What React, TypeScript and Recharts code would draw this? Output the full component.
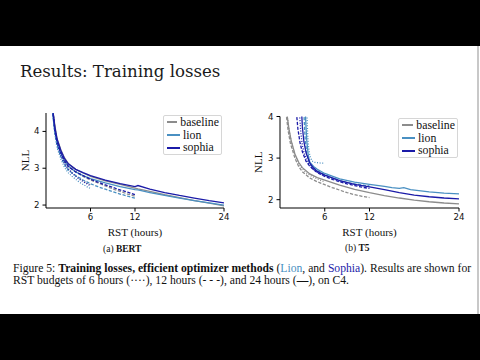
import { LineChart, Line, XAxis, YAxis, Legend } from "recharts"

const SERIF = '"Liberation Serif", "Times New Roman", serif'
const SANS = '"DejaVu Sans", sans-serif'
const BASE = "#8c8c8c"
const LION = "#4a90c2"
const SOPH = "#1b1ba8"

const hourTicks = [6, 12, 24]
const nllTicks = [2, 3, 4]

// BERT runs (hours, NLL)
const bertHours24 = [0.9, 1.2, 1.5, 2, 2.5, 3, 4, 5, 6, 8, 10, 12, 12.4, 14, 16, 18, 20, 22, 24]
const bertBaseline24 = [4.6, 4.15, 3.8, 3.5, 3.28, 3.13, 2.97, 2.87, 2.78, 2.66, 2.56, 2.46, 2.44, 2.37, 2.28, 2.2, 2.12, 2.05, 1.98]
const bertLion24 = [4.5, 4.0, 3.7, 3.4, 3.2, 3.06, 2.9, 2.8, 2.72, 2.6, 2.5, 2.42, 2.41, 2.34, 2.26, 2.19, 2.12, 2.06, 2.0]
const bertSophia24 = [4.6, 4.1, 3.78, 3.48, 3.26, 3.12, 2.97, 2.88, 2.8, 2.68, 2.58, 2.5, 2.53, 2.43, 2.34, 2.26, 2.19, 2.12, 2.06]

const bertHours12 = [0.9, 1.2, 1.5, 2, 2.5, 3, 4, 5, 6, 7, 8, 9, 10, 11, 12]
const bertBaseline12 = [4.6, 4.1, 3.75, 3.45, 3.22, 3.06, 2.9, 2.78, 2.68, 2.6, 2.52, 2.44, 2.37, 2.3, 2.24]
const bertLion12 = [4.5, 3.95, 3.62, 3.32, 3.1, 2.95, 2.8, 2.68, 2.58, 2.5, 2.43, 2.36, 2.3, 2.24, 2.19]
const bertSophia12 = [4.6, 4.05, 3.72, 3.42, 3.2, 3.05, 2.9, 2.8, 2.7, 2.62, 2.55, 2.48, 2.41, 2.35, 2.28]

const bertHours6 = [0.9, 1.2, 1.5, 2, 2.5, 3, 3.5, 4, 4.5, 5, 5.5, 6]
const bertBaseline6 = [4.6, 4.05, 3.7, 3.38, 3.15, 3.0, 2.88, 2.8, 2.72, 2.66, 2.6, 2.55]
const bertLion6 = [4.5, 3.9, 3.55, 3.25, 3.02, 2.88, 2.78, 2.7, 2.62, 2.56, 2.5, 2.45]
const bertSophia6 = [4.6, 4.0, 3.65, 3.35, 3.12, 2.98, 2.87, 2.78, 2.7, 2.64, 2.58, 2.52]

// T5 runs (hours, NLL)
const t5BaselineHours24 = [0.9, 1.2, 1.5, 2, 2.5, 3, 4, 5, 6, 8, 10, 12, 14, 16, 18, 20, 22, 24]
const t5Baseline24 = [4.1, 3.7, 3.42, 3.1, 2.9, 2.77, 2.62, 2.53, 2.47, 2.35, 2.25, 2.17, 2.1, 2.04, 1.99, 1.95, 1.92, 1.9]
const t5BaselineHours12 = [0.8, 1.1, 1.4, 2, 2.5, 3, 4, 5, 6, 7, 8, 9, 10, 11, 12]
const t5Baseline12 = [4.1, 3.65, 3.35, 3.0, 2.8, 2.67, 2.52, 2.43, 2.36, 2.29, 2.23, 2.17, 2.12, 2.08, 2.05]
const t5BaselineHours6 = [0.9, 1.2, 1.5, 2, 2.5, 3, 3.5, 4, 4.5, 5, 5.5, 6]
const t5Baseline6 = [4.1, 3.68, 3.4, 3.07, 2.87, 2.74, 2.65, 2.59, 2.54, 2.5, 2.46, 2.43]

const t5LionHours24 = [3.4, 3.5, 3.6, 3.8, 4, 4.5, 5, 6, 8, 10, 12, 14, 15, 16, 16.6, 17.5, 20, 22, 24]
const t5Lion24 = [4.1, 3.7, 3.4, 3.05, 2.9, 2.8, 2.73, 2.63, 2.5, 2.42, 2.37, 2.32, 2.29, 2.27, 2.29, 2.24, 2.19, 2.16, 2.14]
const t5LionHours12 = [3.2, 3.3, 3.4, 3.6, 3.8, 4, 4.5, 5, 6, 7, 8, 9, 10, 11, 12]
const t5Lion12 = [4.1, 3.7, 3.4, 3.1, 2.95, 2.86, 2.76, 2.7, 2.6, 2.52, 2.46, 2.41, 2.38, 2.35, 2.33]
const t5LionHours6 = [3.6, 3.7, 3.8, 4, 4.3, 4.6, 5, 5.5, 6]
const t5Lion6 = [4.1, 3.6, 3.3, 3.05, 2.93, 2.9, 2.89, 2.88, 2.88]

const t5SophiaHours24 = [2.9, 3.0, 3.2, 3.5, 4, 4.5, 5, 6, 8, 10, 12, 14, 16, 18, 20, 22, 24]
const t5Sophia24 = [4.1, 3.75, 3.4, 3.12, 2.88, 2.76, 2.68, 2.59, 2.46, 2.37, 2.31, 2.24, 2.17, 2.11, 2.07, 2.04, 2.02]
const t5SophiaHours12 = [2.2, 2.4, 2.7, 3, 3.5, 4, 5, 6, 7, 8, 9, 10, 11, 12]
const t5Sophia12 = [4.1, 3.7, 3.35, 3.15, 2.92, 2.8, 2.65, 2.56, 2.49, 2.43, 2.38, 2.34, 2.3, 2.27]
const t5SophiaHours6 = [2.6, 2.8, 3, 3.3, 3.7, 4, 4.5, 5, 5.5, 6]
const t5Sophia6 = [4.1, 3.6, 3.3, 3.08, 2.9, 2.82, 2.72, 2.66, 2.61, 2.57]

type Run = { id: string; hours: number[]; values: number[]; color: string; budget: number }

const dashFor = (budget: number) => (budget === 6 ? "1 1.6" : budget === 12 ? "3.2 1.6" : undefined)

const zip = (hours: number[], values: number[]) => hours.map((h, i) => ({ h, v: values[i] }))

const bertRuns: Run[] = [
  { id: "b6", hours: bertHours6, values: bertBaseline6, color: BASE, budget: 6 },
  { id: "b12", hours: bertHours12, values: bertBaseline12, color: BASE, budget: 12 },
  { id: "b24", hours: bertHours24, values: bertBaseline24, color: BASE, budget: 24 },
  { id: "l6", hours: bertHours6, values: bertLion6, color: LION, budget: 6 },
  { id: "l12", hours: bertHours12, values: bertLion12, color: LION, budget: 12 },
  { id: "l24", hours: bertHours24, values: bertLion24, color: LION, budget: 24 },
  { id: "s6", hours: bertHours6, values: bertSophia6, color: SOPH, budget: 6 },
  { id: "s12", hours: bertHours12, values: bertSophia12, color: SOPH, budget: 12 },
  { id: "s24", hours: bertHours24, values: bertSophia24, color: SOPH, budget: 24 },
]

const t5Runs: Run[] = [
  { id: "b6", hours: t5BaselineHours6, values: t5Baseline6, color: BASE, budget: 6 },
  { id: "b12", hours: t5BaselineHours12, values: t5Baseline12, color: BASE, budget: 12 },
  { id: "b24", hours: t5BaselineHours24, values: t5Baseline24, color: BASE, budget: 24 },
  { id: "l6", hours: t5LionHours6, values: t5Lion6, color: LION, budget: 6 },
  { id: "l12", hours: t5LionHours12, values: t5Lion12, color: LION, budget: 12 },
  { id: "l24", hours: t5LionHours24, values: t5Lion24, color: LION, budget: 24 },
  { id: "s6", hours: t5SophiaHours6, values: t5Sophia6, color: SOPH, budget: 6 },
  { id: "s12", hours: t5SophiaHours12, values: t5Sophia12, color: SOPH, budget: 12 },
  { id: "s24", hours: t5SophiaHours24, values: t5Sophia24, color: SOPH, budget: 24 },
]

const legendItems = [
  { name: "baseline", color: BASE },
  { name: "lion", color: LION },
  { name: "sophia", color: SOPH },
]

function LegendBox() {
  return (
    <div
      style={{
        border: "1px solid #d6d6d6",
        borderRadius: 2,
        background: "#fff",
        padding: "0px 2px 0px 3px",
        fontFamily: SERIF,
        fontSize: 11.8,
        color: "#111",
        boxSizing: "border-box",
        whiteSpace: "nowrap",
      }}
    >
      {legendItems.map((it) => (
        <div key={it.name} style={{ display: "flex", alignItems: "center", height: 12.7 }}>
          <span style={{ width: 13, borderTop: `2px solid ${it.color}`, marginRight: 3 }} />
          <span>{it.name}</span>
        </div>
      ))}
    </div>
  )
}

type PanelProps = {
  runs: Run[]
  yDomain: [number, number]
  margin: { top: number; right: number; left: number; bottom: number }
  legendPos: { top: number; left: number; width: number }
  nllOffset: number
}

function LossPanel({ runs, yDomain, margin, legendPos, nllOffset }: PanelProps) {
  return (
    <LineChart width={240} height={140} margin={margin}>
      <XAxis
        dataKey="h"
        type="number"
        domain={[0, 24]}
        ticks={hourTicks}
        interval={0}
        allowDataOverflow
        height={30}
        tickSize={3.5}
        tickMargin={2}
        stroke="#000"
        tick={{ fill: "#111", fontSize: 8.6, fontFamily: SANS }}
        label={{ value: "RST (hours)", position: "insideBottom", offset: 2, fill: "#111", fontSize: 11, fontFamily: SERIF }}
      />
      <YAxis
        dataKey="v"
        type="number"
        domain={yDomain}
        ticks={nllTicks}
        allowDataOverflow
        width={26}
        tickSize={3.5}
        tickMargin={3}
        stroke="#000"
        tick={{ fill: "#111", fontSize: 8.6, fontFamily: SANS }}
        label={{
          value: "NLL",
          angle: -90,
          position: "insideLeft",
          offset: nllOffset,
          fill: "#111",
          fontSize: 11,
          fontFamily: SERIF,
          style: { textAnchor: "middle" },
        }}
      />
      <XAxis xAxisId="top" orientation="top" type="number" domain={[0, 24]} tick={false} tickLine={false} height={0} stroke="#000" />
      <YAxis yAxisId="right" orientation="right" type="number" domain={yDomain} tick={false} tickLine={false} width={0} stroke="#000" />
      {runs.map((r) => (
        <Line
          key={r.id}
          data={zip(r.hours, r.values)}
          dataKey="v"
          type="linear"
          stroke={r.color}
          strokeWidth={1.3}
          strokeDasharray={dashFor(r.budget)}
          dot={false}
          activeDot={false}
          isAnimationActive={false}
        />
      ))}
      <Legend
        layout="vertical"
        align="center"
        verticalAlign="middle"
        wrapperStyle={{ top: legendPos.top, left: legendPos.left, width: legendPos.width }}
        content={() => <LegendBox />}
      />
    </LineChart>
  )
}

export default function App() {
  return (
    <div style={{ position: "fixed", left: 0, top: 0, width: 480, height: 360, background: "#fff", overflow: "hidden" }}>
      <div style={{ position: "absolute", left: 0, top: 0, width: 480, height: 46, background: "#000" }} />
      <div style={{ position: "absolute", left: 0, top: 314, width: 480, height: 46, background: "#000" }} />
      <div style={{ position: "absolute", left: 477, top: 46, width: 2, height: 268, background: "#c8c8c8" }} />

      <div
        style={{
          position: "absolute",
          left: 20,
          top: 63.7,
          fontFamily: '"DejaVu Serif", serif',
          fontSize: 16.6,
          lineHeight: 1,
          color: "#1a1a1a",
          whiteSpace: "nowrap",
        }}
      >
        Results: Training losses
      </div>

      <div style={{ position: "absolute", left: 0, top: 100 }}>
        <LossPanel
          runs={bertRuns}
          yDomain={[1.92, 4.5]}
          margin={{ top: 13, right: 16, left: 20, bottom: 2 }}
          legendPos={{ top: 15, left: 163, width: 59 }}
          nllOffset={5}
        />
      </div>
      <div style={{ position: "absolute", left: 240, top: 100 }}>
        <LossPanel
          runs={t5Runs}
          yDomain={[1.8, 4]}
          margin={{ top: 16.5, right: 21, left: 14, bottom: 2 }}
          legendPos={{ top: 18, left: 158, width: 60 }}
          nllOffset={4}
        />
      </div>

      <div style={{ position: "absolute", left: 103, top: 244.5, fontFamily: SERIF, fontSize: 9.5, lineHeight: 1, color: "#111", whiteSpace: "nowrap" }}>
        (a) <b>BERT</b>
      </div>
      <div style={{ position: "absolute", left: 345, top: 244.3, fontFamily: SERIF, fontSize: 9.5, lineHeight: 1, color: "#111", whiteSpace: "nowrap" }}>
        (b) <b>T5</b>
      </div>

      <div
        style={{
          position: "absolute",
          left: 13,
          top: 262.7,
          fontFamily: SERIF,
          fontSize: 11.65,
          lineHeight: "12.7px",
          color: "#111",
          whiteSpace: "nowrap",
        }}
      >
        <div>
          Figure 5: <b>Training losses, efficient optimizer methods</b> (<span style={{ color: LION }}>Lion</span>, and{" "}
          <span style={{ color: SOPH }}>Sophia</span>). Results are shown for
        </div>
        <div>
          RST budgets of 6 hours (····), 12 hours (- - -), and 24 hours (<b>—</b>), on C4.
        </div>
      </div>
    </div>
  )
}
